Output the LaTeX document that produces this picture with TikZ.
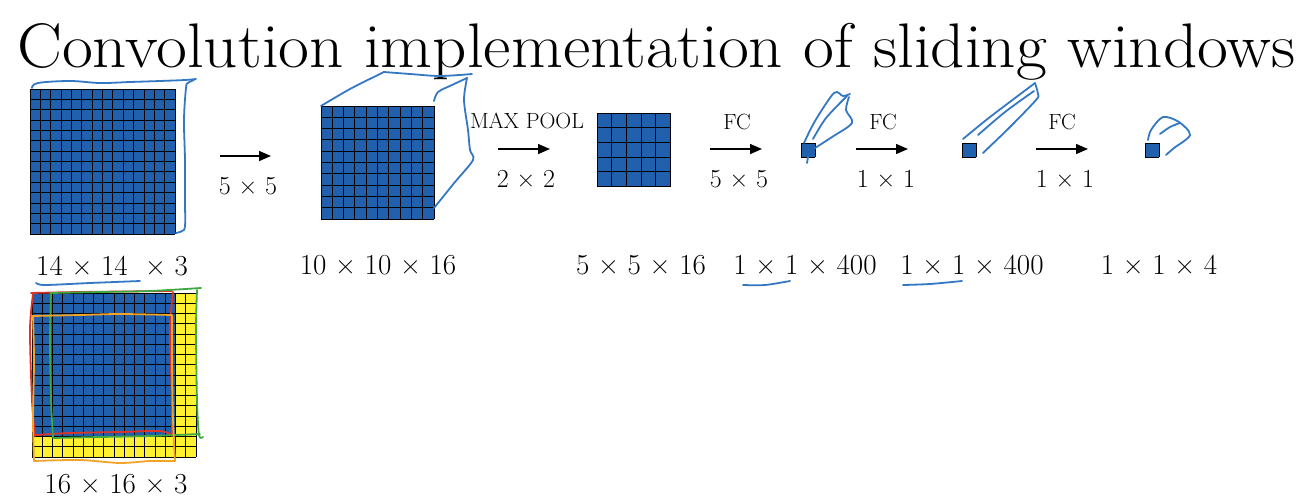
\documentclass[tikz,border=0pt]{standalone}
\usetikzlibrary{arrows.meta}
\definecolor{cellblue}{RGB}{33,96,172}
\definecolor{cellyellow}{RGB}{255,240,50}
\definecolor{penblue}{RGB}{52,120,196}
\definecolor{penred}{RGB}{222,52,40}
\definecolor{pengreen}{RGB}{64,168,64}
\definecolor{penorange}{RGB}{242,164,40}
\newcommand\tms{\kern.3em×\kern.3em}
\newcommand\gridsq[5]{%
  \fill[#5] (#1,#2) rectangle ++(#3*#4,#3*#4);
  \foreach \i in {0,...,#3}{%
    \draw[gridline] (#1+\i*#4,#2) -- ++(0,#3*#4);
    \draw[gridline] (#1,#2+\i*#4) -- ++(#3*#4,0);
  }%
}
\tikzset{
  gridline/.style={black, line width=0.9pt},
  hand/.style={penblue, line width=1.8pt, line cap=round, line join=round},
  flow/.style={line width=1.4pt, -{Triangle[length=12pt,width=10pt]}},
  oplabel/.style={font=\fontsize{22}{24}\selectfont, anchor=base, inner sep=0},
  sizelabel/.style={font=\fontsize{26}{28}\selectfont, anchor=base, inner sep=0},
  dimlabel/.style={font=\fontsize{29}{31}\selectfont, anchor=base, inner sep=0},
}
\begin{document}
\begin{tikzpicture}[x=1pt,y=-1pt]
\useasboundingbox (0,0) rectangle (1296,498);
\fill[white] (0,0) rectangle (1296,498);

% title
\node[anchor=base west, inner sep=0, font=\fontsize{63}{72}\selectfont] (title) at (17,67) {\scalebox{1.066}[1]{Convolution implementation of sliding windows}};

% grids
\gridsq{30}{89}{14}{10.36}{cellblue}
\gridsq{321}{106}{10}{11.3}{cellblue}
\gridsq{597}{113}{5}{14.7}{cellblue}
\gridsq{801}{143}{1}{14}{cellblue}
\gridsq{962}{143}{1}{14}{cellblue}
\gridsq{1145}{143}{1}{14}{cellblue}
% 16x16 grid with 14x14 blue
\fill[cellyellow] (32,293) rectangle ++(164,164);
\fill[cellblue] (32,293) rectangle ++(143.5,143.5);
\foreach \i in {0,...,16}{%
  \draw[gridline] (32+\i*10.25,293) -- ++(0,164);
  \draw[gridline] (32,293+\i*10.25) -- ++(164,0);
}

% arrows
\coordinate (a1s) at (220,156); \coordinate (a1e) at (271,156);
\coordinate (a2s) at (498,149); \coordinate (a2e) at (550,149);
\coordinate (a3s) at (710,149); \coordinate (a3e) at (762,149);
\coordinate (a4s) at (856,149); \coordinate (a4e) at (908,149);
\coordinate (a5s) at (1036,149); \coordinate (a5e) at (1088,149);
\draw[flow] (a1s) -- (a1e);
\draw[flow] (a2s) -- (a2e);
\draw[flow] (a3s) -- (a3e);
\draw[flow] (a4s) -- (a4e);
\draw[flow] (a5s) -- (a5e);

% operation labels
\node[sizelabel] (k1) at (248,194) {5\tms 5};
\node[oplabel] (mp) at (527,128) {MAX POOL};
\node[sizelabel] (k2) at (526,187) {2\tms 2};
\node[oplabel] (fc1) at (737,129) {FC};
\node[sizelabel] (k3) at (739,187) {5\tms 5};
\node[oplabel] (fc2) at (883,129) {FC};
\node[sizelabel] (k4) at (886,187) {1\tms 1};
\node[oplabel] (fc3) at (1062,129) {FC};
\node[sizelabel] (k5) at (1065,187) {1\tms 1};

% dimension labels
\node[dimlabel, anchor=base west] (d1) at (36,275) {14\tms 14\kern.3em\tms 3};
\node[dimlabel] (d2) at (378,274) {10\tms 10\tms 16};
\node[dimlabel] (d3) at (641,274) {5\tms 5\tms 16};
\node[dimlabel] (d4) at (805,274) {1\tms 1\tms 400};
\node[dimlabel] (d5) at (972,274) {1\tms 1\tms 400};
\node[dimlabel] (d6) at (1159,274) {1\tms 1\tms 4};
\node[dimlabel] (d7) at (116,493) {16\tms 16\tms 3};

% hand-drawn strokes: first volume
\draw[hand] plot[smooth, tension=0.6] coordinates {(32,88) (38,83) (70,81) (100,83) (130,82) (160,81) (185,80) (196,79)};
\draw[hand] plot[smooth, tension=0.6] coordinates {(194,80) (188,83) (186,88) (184,120) (185,160) (185,200) (185,226) (182,231) (176,233)};
% second volume (cube)
\draw[hand] plot[smooth, tension=0.5] coordinates {(321,106) (350,89) (384,72)};
\draw[hand] plot[smooth, tension=0.5] coordinates {(384,72) (410,74) (440,76) (472,74)};
\draw[hand] plot[smooth, tension=0.5] coordinates {(434,101) (438,92) (452,85) (467,78)};
\draw[hand] plot[smooth, tension=0.5] coordinates {(467,78) (464,100) (468,130) (470,150) (473,160) (455,182) (434,208)};
% 1x1x400 prism
\draw[hand] plot[smooth, tension=0.5] coordinates {(804,143) (815,121) (834,93) (843,96) (850,94)};
\draw[hand] plot[smooth, tension=0.5] coordinates {(813,139) (826,118) (847,96)};
\draw[hand] plot[smooth, tension=0.5] coordinates {(849,97) (846,110) (852,123) (832,137) (815,148)};
\draw[hand] (808,157) -- (807,163);
% second 1x1x400 prism
\draw[hand] plot[smooth, tension=0.5] coordinates {(963,139) (990,117) (1035,83)};
\draw[hand] plot[smooth, tension=0.5] coordinates {(978,135) (1005,112) (1034,91)};
\draw[hand] plot[smooth, tension=0.5] coordinates {(1035,83) (1038,94) (1036,100) (1010,127) (983,153)};
% 1x1x4
\draw[hand] plot[smooth, tension=0.5] coordinates {(1148,140) (1151,130) (1163,117) (1179,122) (1190,135) (1174,148) (1166,155)};
\draw[hand] plot[smooth, tension=0.5] coordinates {(1160,134) (1170,127) (1180,123)};

% underlines
\draw[hand] plot[smooth, tension=0.5] coordinates {(36,283) (45,285) (90,283) (140,281)};
\draw[hand] plot[smooth, tension=0.5] coordinates {(743,285) (765,285) (790,281)};
\draw[hand] plot[smooth, tension=0.5] coordinates {(903,285) (930,284) (962,281)};

% sliding windows on the 16x16 input
\draw[hand, penred] plot[smooth, tension=0.5] coordinates {(31,293) (80,292) (172,291)};
\draw[hand, penred] plot[smooth, tension=0.5] coordinates {(33,294) (30,330) (32,400) (35,436)};
\draw[hand, penred] plot[smooth, tension=0.5] coordinates {(173,292) (170,330) (172,400) (172,436)};
\draw[hand, penred] plot[smooth, tension=0.5] coordinates {(36,435) (70,433) (120,432) (160,431) (171,435)};
\draw[hand, pengreen] plot[smooth, tension=0.5] coordinates {(50,293) (100,292) (150,291) (201,288)};
\draw[hand, pengreen] plot[smooth, tension=0.5] coordinates {(51,294) (50,340) (51,400) (53,437)};
\draw[hand, pengreen] plot[smooth, tension=0.5] coordinates {(197,290) (196,330) (197,400) (199,435) (203,437)};
\draw[hand, pengreen] plot[smooth, tension=0.5] coordinates {(53,438) (100,437) (150,436) (200,434)};
\draw[hand, penorange] plot[smooth, tension=0.5] coordinates {(32,316) (80,315) (120,314) (172,315)};
\draw[hand, penorange] plot[smooth, tension=0.5] coordinates {(33,316) (34,360) (33,420) (34,461)};
\draw[hand, penorange] plot[smooth, tension=0.5] coordinates {(172,316) (172,360) (173,420) (175,461)};
\draw[hand, penorange] plot[smooth, tension=0.5] coordinates {(34,461) (80,460) (120,463) (150,461) (175,461)};
\end{tikzpicture}
\end{document}
